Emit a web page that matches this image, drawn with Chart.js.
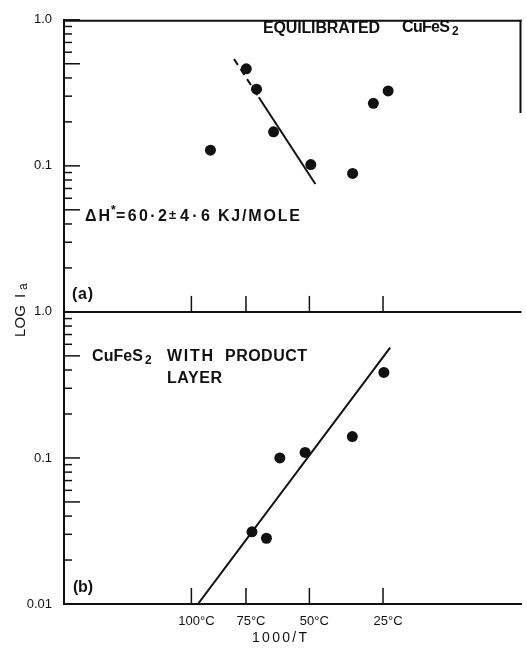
<!DOCTYPE html>
<html><head><meta charset="utf-8">
<script src="https://cdn.jsdelivr.net/npm/chart.js@4"></script>
<style>html,body{margin:0;padding:0;background:#fff}canvas{display:block}</style>
</head><body>
<canvas id="c" width="527" height="649"></canvas>
<script>
// ---- data (x = 1000/T in K^-1, y = I_a, log scale) ----
const xTickValues = [2.680, 2.872, 3.095, 3.354];
const xTickLabels = ['100°C', '75°C', '50°C', '25°C'];
const yTickValues = [0.01,0.02,0.03,0.04,0.05,0.06,0.07,0.08,0.09,0.1,0.2,0.3,0.4,0.5,0.6,0.7,0.8,0.9,1];
const xRange = [2.232, 3.841];
const yRange = [0.01, 1];

const equilX = [2.747, 2.873, 2.909, 2.969, 3.100, 3.247, 3.320, 3.372];
const equilY = [0.128, 0.462, 0.335, 0.171, 0.102, 0.0887, 0.268, 0.326];
const equilFitDashX = [2.830, 2.917];
const equilFitDashY = [0.539, 0.295];
const equilFitX = [2.917, 3.116];
const equilFitY = [0.295, 0.0752];

const productX = [2.893, 2.944, 2.991, 3.080, 3.246, 3.357];
const productY = [0.0312, 0.0282, 0.100, 0.109, 0.140, 0.385];
const productFitX = [2.703, 3.379];
const productFitY = [0.010, 0.570];

const INK = '#111111';
const FONT = '"Liberation Sans", Arial, sans-serif';
const zip = (xs, ys) => xs.map((x, i) => ({x, y: ys[i]}));

function txt(ctx, s, x, y, size, width, weight) {
  ctx.font = (weight || 'bold') + ' ' + size + 'px ' + FONT;
  if ('letterSpacing' in ctx) ctx.letterSpacing = '0px';
  if (width && 'letterSpacing' in ctx) {
    const w = ctx.measureText(s).width;
    const n = [...s].length;
    if (n > 1) ctx.letterSpacing = ((width - w) / (n - 1)).toFixed(2) + 'px';
  }
  ctx.fillText(s, x, y);
  if ('letterSpacing' in ctx) ctx.letterSpacing = '0px';
}

const decor = {
  id: 'decor',
  beforeDraw(chart) {
    const c = chart.ctx; c.save(); c.fillStyle = '#fff'; c.fillRect(0, 0, chart.width, chart.height); c.restore();
  },
  afterDraw(chart) {
    const {ctx, chartArea: ca, scales} = chart;
    const x = scales.x, yA = scales.yA, yB = scales.yB;
    const line = (x1, y1, x2, y2) => { ctx.beginPath(); ctx.moveTo(x1, y1); ctx.lineTo(x2, y2); ctx.stroke(); };
    ctx.save();
    ctx.strokeStyle = INK; ctx.fillStyle = INK; ctx.lineWidth = 2;
    line(ca.left, yA.top + 1, ca.right, yA.top + 1);
    line(ca.left, yA.bottom, ca.right, yA.bottom);
    line(ca.right - 1, yA.top, ca.right - 1, yA.getPixelForValue(0.23));
    ctx.lineWidth = 1.5;
    for (const [s, skipMin] of [[yA, true], [yB, false]]) {
      for (const v of yTickValues) {
        if (skipMin && v === yRange[0]) continue;
        const py = s.getPixelForValue(v);
        const m = v / Math.pow(10, Math.floor(Math.log10(v) + 1e-9));
        const len = (Math.abs(m - 1) < 1e-6 || Math.abs(m - 5) < 1e-6) ? 16 : 8;
        line(ca.left, py, ca.left + len, py);
      }
    }
    for (const base of [yA.bottom, yB.bottom]) {
      for (const v of xTickValues) { const px = x.getPixelForValue(v); line(px, base, px, base - 16); }
    }
    ctx.textBaseline = 'middle'; ctx.textAlign = 'left';
    // top panel
    txt(ctx, 'EQUILIBRATED', 263, 29, 16, 117);
    txt(ctx, 'CuFeS', 402, 28, 16, 48);
    txt(ctx, '2', 452, 32, 12);
    txt(ctx, 'ΔH', 85, 217, 16, 25);
    txt(ctx, '*', 111, 211, 12);
    txt(ctx, '=60·2', 116, 217, 16, 51);
    txt(ctx, '±', 169, 215, 13);
    txt(ctx, '4·6', 180, 217, 16, 30);
    txt(ctx, 'KJ/MOLE', 218, 217, 16, 82);
    txt(ctx, '(a)', 72, 295, 16, 21);
    // bottom panel
    txt(ctx, 'CuFeS', 92, 357, 16, 51);
    txt(ctx, '2', 145, 361, 12);
    txt(ctx, 'WITH', 167, 357, 16, 46);
    txt(ctx, 'PRODUCT', 225, 357, 16, 82);
    txt(ctx, 'LAYER', 167, 379, 16, 55);
    txt(ctx, '(b)', 73, 588, 16, 20);
    // axis titles
    txt(ctx, '1000/T', 252, 638, 14, 55, 'normal');
    ctx.save();
    ctx.translate(21, 337); ctx.rotate(-Math.PI / 2);
    txt(ctx, 'LOG', 0, 0, 15, 32, 'normal');
    txt(ctx, 'I', 39, 0, 15, 0, 'normal');
    txt(ctx, 'a', 47, 3, 12, 0, 'normal');
    ctx.restore();
    ctx.restore();
  }
};

const yCommon = (labels) => ({
  type: 'logarithmic', position: 'left', stack: 'panels', stackWeight: 1,
  min: yRange[0], max: yRange[1],
  afterBuildTicks: s => { s.ticks = yTickValues.map(v => ({value: v})); },
  afterFit: s => { s.width = 64; },
  grid: {display: false, drawTicks: false},
  border: {display: true, color: INK, width: 2},
  ticks: {
    autoSkip: false, padding: 12, color: INK, font: {size: 13, family: FONT},
    callback: v => labels[String(v)] || ''
  }
});

new Chart(document.getElementById('c'), {
  type: 'scatter',
  data: {
    datasets: [
      {data: zip(equilX, equilY), yAxisID: 'yA', pointRadius: 5.5, backgroundColor: INK, borderWidth: 0},
      {data: zip(equilFitDashX, equilFitDashY), yAxisID: 'yA', showLine: true, pointRadius: 0, borderColor: INK, borderWidth: 2, borderDash: [7, 5]},
      {data: zip(equilFitX, equilFitY), yAxisID: 'yA', showLine: true, pointRadius: 0, borderColor: INK, borderWidth: 2},
      {data: zip(productX, productY), yAxisID: 'yB', pointRadius: 5.5, backgroundColor: INK, borderWidth: 0},
      {data: zip(productFitX, productFitY), yAxisID: 'yB', showLine: true, pointRadius: 0, borderColor: INK, borderWidth: 2}
    ]
  },
  options: {
    responsive: false, animation: false,
    layout: {padding: {top: 16, left: 0, right: 0, bottom: 0}},
    plugins: {legend: {display: false}, tooltip: {enabled: false}},
    scales: {
      x: {
        type: 'linear', position: 'bottom', min: xRange[0], max: xRange[1],
        afterBuildTicks: s => { s.ticks = xTickValues.map(v => ({value: v})); },
        afterFit: s => { s.height = 45; },
        grid: {display: false, drawTicks: false},
        border: {display: true, color: INK, width: 2},
        ticks: {
          autoSkip: false, maxRotation: 0, padding: 10, labelOffset: 5, color: INK,
          font: {size: 13, family: FONT},
          callback: (v, i) => xTickLabels[i]
        }
      },
      yB: yCommon({'1': '1.0', '0.1': '0.1', '0.01': '0.01'}),
      yA: yCommon({'1': '1.0', '0.1': '0.1'})
    }
  },
  plugins: [decor]
});
</script>
</body></html>
